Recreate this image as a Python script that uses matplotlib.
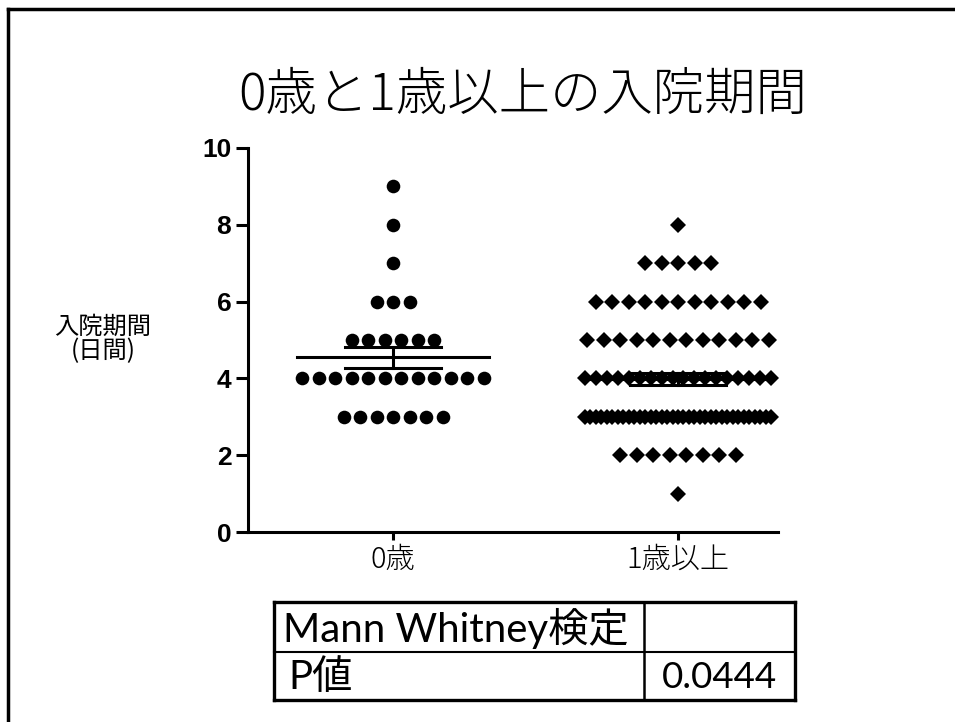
#!/usr/bin/env python3

import matplotlib
matplotlib.use("Agg")
import matplotlib.pyplot as plt
from matplotlib.lines import Line2D
import numpy as np

plt.rcParams["font.family"] = ["Noto Sans CJK JP", "DejaVu Sans"]

# data: hospital stay (days) and number of patients per day value
DAYS = [1, 2, 3, 4, 5, 6, 7, 8, 9]
COUNT_AGE0 = [0, 0, 7, 12, 6, 3, 1, 1, 1]
COUNT_AGE1 = [1, 8, 35, 18, 12, 11, 5, 1, 0]
GROUPS = ["0歳", "1歳以上"]
TITLE = "0歳と1歳以上の入院期間"
YLABEL = "入院期間\n(日間)"
TEST_NAME = "Mann Whitney検定"
P_LABEL = "P値"
P_VALUE = "0.0444"

W, H = 955, 722
fig = plt.figure(figsize=(W / 100, H / 100), dpi=100)


def fx(px):
    return px / W


def fy(py):
    return 1 - py / H


# axes placed in pixel coords of the reference
ax_left, ax_right, ax_top, ax_bottom = 248, 778, 148, 532
ax = fig.add_axes([fx(ax_left), fy(ax_bottom),
                   (ax_right - ax_left) / W, (ax_bottom - ax_top) / H])
x0_px, x1_px = 393, 678
px_per_unit = x1_px - x0_px
ax.set_xlim((ax_left - x0_px) / px_per_unit, (ax_right - x0_px) / px_per_unit)
ax.set_ylim(0, 10)

STEP_PX = 16.5
MAXW_PX = 186


def spread(counts):
    xs, ys = [], []
    for d, n in zip(DAYS, counts):
        if n == 0:
            continue
        s = STEP_PX if n == 1 else min(STEP_PX, MAXW_PX / (n - 1))
        off = (np.arange(n) - (n - 1) / 2) * s / px_per_unit
        xs.extend(off)
        ys.extend([d] * n)
    return np.array(xs), np.array(ys)


markers = [("o", 9.8), ("D", 8.4)]
for g, counts in enumerate([COUNT_AGE0, COUNT_AGE1]):
    xs, ys = spread(counts)
    m, ms = markers[g]
    ax.plot(g + xs, ys, ls="none", marker=m, markersize=ms,
            color="black", markeredgewidth=0, zorder=2)
    vals = np.repeat(DAYS, counts)
    mean = vals.mean()
    sem = vals.std(ddof=1) / np.sqrt(len(vals))
    half_mean = 96 / px_per_unit
    half_cap = 48 / px_per_unit
    ax.plot([g - half_mean, g + half_mean], [mean, mean], color="black", lw=2.2, zorder=3)
    ax.plot([g, g], [mean - sem, mean + sem], color="black", lw=2.2, zorder=3)
    for yv in (mean - sem, mean + sem):
        ax.plot([g - half_cap, g + half_cap], [yv, yv], color="black", lw=2.2, zorder=3)

for side in ["top", "right"]:
    ax.spines[side].set_visible(False)
for side in ["left", "bottom"]:
    ax.spines[side].set_linewidth(2.2)

ax.set_yticks([0, 2, 4, 6, 8, 10])
ax.set_yticklabels(["0", "2", "4", "6", "8", "10"], family="Liberation Sans",
                   fontweight="bold", fontsize=19)
ax.tick_params(axis="y", length=9, width=2.2, pad=3)
ax.set_xticks([0, 1])
ax.set_xticklabels(GROUPS, fontsize=21, fontweight="light")
ax.tick_params(axis="x", length=6, width=2.2, pad=3)

fig.text(fx(523), fy(95), TITLE, fontsize=37, fontweight="light",
         ha="center", va="center")
fig.text(fx(103), fy(339), YLABEL, fontsize=17.5, ha="center", va="center",
         linespacing=0.95)

# table under the chart
t_l, t_r, t_mid, t_top, t_row, t_bot = 274, 795, 644, 602, 652, 700
lines = [
    ([t_l, t_r], [t_top, t_top], 2.4),
    ([t_l, t_r], [t_bot, t_bot], 2.4),
    ([t_l, t_l], [t_top, t_bot], 2.4),
    ([t_r, t_r], [t_top, t_bot], 2.4),
    ([t_mid, t_mid], [t_top, t_bot], 1.8),
    ([t_l, t_r], [t_row, t_row], 1.5),
]
for xs, ys, lw in lines:
    fig.add_artist(Line2D([fx(x) for x in xs], [fy(y) for y in ys],
                          color="black", lw=lw))
tfam = ["Lato", "Noto Sans CJK JP"]
fig.text(fx(283), fy(628), TEST_NAME, fontsize=29, family=tfam, va="center")
fig.text(fx(288), fy(677), P_LABEL, fontsize=29, family=tfam, va="center")
fig.text(fx(777), fy(677), P_VALUE, fontsize=26.5, family=tfam,
         va="center", ha="right")

# outer frame of the scanned page
fig.add_artist(Line2D([fx(8), 1], [fy(9), fy(9)], color="black", lw=2.5))
fig.add_artist(Line2D([fx(8), fx(8)], [fy(9), 0], color="black", lw=2.5))

plt.savefig("out.png", dpi=100)
